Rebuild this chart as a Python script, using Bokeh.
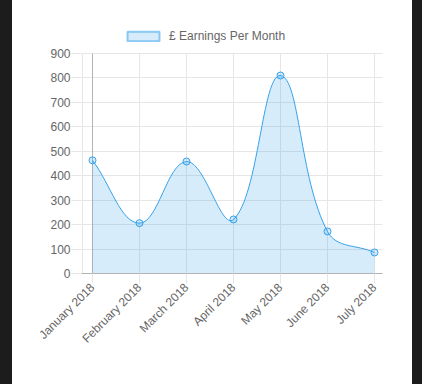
import math
import numpy as np
from bokeh.plotting import figure
from bokeh.layouts import row
from bokeh.models import (Range1d, FixedTicker, Legend, LegendItem,
                          Spacer, ColumnDataSource)
from bokeh.embed import file_html
from bokeh.resources import INLINE

# ---- data ----
months = ["January 2018", "February 2018", "March 2018", "April 2018",
          "May 2018", "June 2018", "July 2018"]
earnings = [463, 206, 458, 221, 810, 172, 86]
y_ticks = [0, 100, 200, 300, 400, 500, 600, 700, 800, 900]
series_label = "£ Earnings Per Month"

BLUE = "#36a2eb"
GRID = "#e6e6e6"
ZERO = "#b3b3b3"
TXT = "#666666"
DARK = "#1c1c1c"
FONT = "Liberation Sans"

PAGE_W, PAGE_H = 422, 384
LEFT_BAND, RIGHT_BAND = 12, 10
W, H = PAGE_W - LEFT_BAND - RIGHT_BAND, PAGE_H
PLOT_L, PLOT_R, PLOT_T, PLOT_B = 82, 382, 53, 273   # grid area on the page
FRAME_L = PLOT_L - 1 - LEFT_BAND                     # canvas px
FRAME_W = PLOT_R - (PLOT_L - 1)
FRAME_H = PLOT_B                                     # frame reaches canvas top
X_PX = 47.0                                          # px per category step
Y_TOP = y_ticks[-1]
Y_PX = (PLOT_B - PLOT_T) / Y_TOP
Y_MAX = FRAME_H / Y_PX

xs = np.arange(len(months), dtype=float)
ys = np.array(earnings, dtype=float)

# Chart.js-style spline (tension 0.4), distances measured in pixels
tension = 0.4
n = len(xs)
cp_prev_x = np.zeros(n); cp_prev_y = np.zeros(n)
cp_next_x = np.zeros(n); cp_next_y = np.zeros(n)
for i in range(n):
    pi_ = max(i - 1, 0); ni = min(i + 1, n - 1)
    d01 = math.hypot((xs[i] - xs[pi_]) * X_PX, (ys[i] - ys[pi_]) * Y_PX)
    d12 = math.hypot((xs[ni] - xs[i]) * X_PX, (ys[ni] - ys[i]) * Y_PX)
    tot = d01 + d12
    fa = tension * d01 / tot if tot else 0
    fb = tension * d12 / tot if tot else 0
    dx = xs[ni] - xs[pi_]; dy = ys[ni] - ys[pi_]
    cp_prev_x[i] = xs[i] - fa * dx; cp_prev_y[i] = ys[i] - fa * dy
    cp_next_x[i] = xs[i] + fb * dx; cp_next_y[i] = ys[i] + fb * dy
cp_prev_y = np.clip(cp_prev_y, 0, Y_TOP); cp_next_y = np.clip(cp_next_y, 0, Y_TOP)

seg = dict(x0=xs[:-1], y0=ys[:-1], x1=xs[1:], y1=ys[1:],
           cx0=cp_next_x[:-1], cy0=cp_next_y[:-1],
           cx1=cp_prev_x[1:], cy1=cp_prev_y[1:])

# sample the bezier segments for the filled area
t = np.linspace(0, 1, 40)[:, None]
def bez(a, b, c, d):
    return ((1 - t) ** 3 * a + 3 * (1 - t) ** 2 * t * b
            + 3 * (1 - t) * t ** 2 * c + t ** 3 * d).T.ravel()
fx = bez(seg["x0"], seg["cx0"], seg["cx1"], seg["x1"])
fy = bez(seg["y0"], seg["cy0"], seg["cy1"], seg["y1"])

x_axis_pos = -10.0 / X_PX           # where the y-axis border line sits
x_lo = -11.0 / X_PX
x_hi = (n - 1) + 8.0 / X_PX

p = figure(width=W, height=H, output_backend="svg", toolbar_location=None,
           x_range=Range1d(x_lo, x_hi), y_range=Range1d(0, Y_MAX),
           min_border_left=FRAME_L, min_border_right=W - FRAME_L - FRAME_W,
           min_border_top=0, min_border_bottom=H - FRAME_H,
           background_fill_color="white", border_fill_color="white")
p.outline_line_color = None

# axes
p.xaxis.ticker = FixedTicker(ticks=list(xs))
p.xaxis.major_label_overrides = {i: m for i, m in enumerate(months)}
p.xaxis.major_label_orientation = math.pi / 4
p.yaxis.ticker = FixedTicker(ticks=y_ticks)
for ax in (p.xaxis, p.yaxis):
    ax.major_tick_in = 0
    ax.major_tick_out = 10
    ax.major_tick_line_color = GRID
    ax.minor_tick_line_color = None
    ax.major_label_text_font = FONT
    ax.major_label_text_font_size = "12px"
    ax.major_label_text_color = TXT
    ax.major_label_text_font_style = "normal"
p.yaxis.axis_line_color = None
p.yaxis.major_label_standoff = 1
p.xaxis.axis_line_color = ZERO
p.xaxis.major_label_standoff = 2

p.xgrid.grid_line_color = None
p.ygrid.grid_line_color = GRID
# vertical grid lines stop at the top tick
p.segment(x0=xs, y0=0, x1=xs, y1=Y_TOP, line_color=GRID, line_width=1)
p.segment(x0=[x_axis_pos], y0=[0], x1=[x_axis_pos], y1=[Y_TOP],
          line_color=GRID, line_width=1)
p.segment(x0=xs[:1], y0=[0], x1=xs[:1], y1=[Y_TOP], line_color=ZERO, line_width=1)

# area + line + points
p.varea(x=fx, y1=np.zeros_like(fy), y2=fy, fill_color=BLUE, fill_alpha=0.2)
p.bezier(source=ColumnDataSource(seg), x0="x0", y0="y0", x1="x1", y1="y1",
         cx0="cx0", cy0="cy0", cx1="cx1", cy1="cy1",
         line_color=BLUE, line_width=1)
p.scatter(xs, ys, size=7, line_color=BLUE, line_width=1,
          fill_color=BLUE, fill_alpha=0.2)

# legend (inside the frame, above the grid)
dummy = p.quad(left=[np.nan], right=[np.nan], top=[np.nan], bottom=[np.nan],
               fill_color=BLUE, fill_alpha=0.2,
               line_color=BLUE, line_alpha=0.55, line_width=2)
legend = Legend(items=[LegendItem(label=series_label, renderers=[dummy])],
                location=(123 - (PLOT_L - 1), PLOT_B - 43), orientation="horizontal",
                glyph_width=40, glyph_height=12, label_height=12,
                label_standoff=6, padding=0, margin=0, spacing=0,
                border_line_color=None, background_fill_alpha=0,
                label_text_font=FONT, label_text_font_size="12px",
                label_text_color=TXT)
p.add_layout(legend, "center")

left_band = Spacer(width=LEFT_BAND, height=H, styles={"background-color": DARK})
right_band = Spacer(width=RIGHT_BAND, height=H, styles={"background-color": DARK})
page = row(left_band, p, right_band, spacing=0)

open("out.html", "w").write(file_html(page, INLINE))
